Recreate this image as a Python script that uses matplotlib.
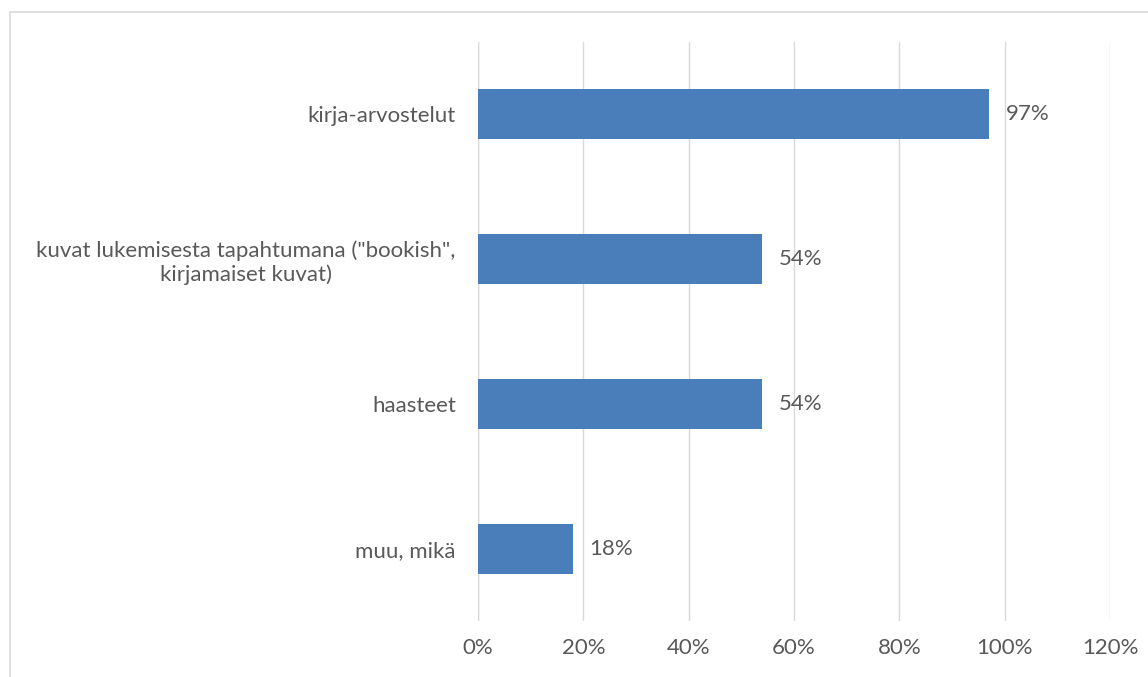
import matplotlib.pyplot as plt
from matplotlib.patches import Rectangle

categories = ["kirja-arvostelut",
              "kuvat lukemisesta tapahtumana (\"bookish\",\nkirjamaiset kuvat)",
              "haasteet",
              "muu, mikä"]
values = [0.97, 0.54, 0.54, 0.18]
xticks = [0, 0.2, 0.4, 0.6, 0.8, 1.0, 1.2]
xticklabels = ["0%", "20%", "40%", "60%", "80%", "100%", "120%"]

plt.rcParams['font.family'] = ['Lato', 'DejaVu Sans']
W, H = 1148, 677
fig = plt.figure(figsize=(W/100, H/100), dpi=100)

# outer frame
fig.patches.append(Rectangle((10/W, -0.1), 1.2, (H-12)/H + 0.1, transform=fig.transFigure,
                             fill=False, edgecolor='#d9d9d9', linewidth=1.2))

fs = 16
ax = fig.add_axes([478/W, 56/H, (1110-478)/W, (635-56)/H])
txt = '#595959'
ypos = list(range(len(categories)))
ax.barh(ypos, values, height=0.345, color='#4a7ebb', zorder=3)
ax.set_ylim(len(categories)-0.5, -0.5)
ax.set_xlim(0, 1.2)
ax.set_yticks(ypos)
ax.set_yticklabels(categories, color=txt, fontsize=fs, multialignment='center')
ax.set_xticks(xticks)
ax.set_xticklabels(xticklabels, color=txt, fontsize=fs)
ax.tick_params(axis='both', length=0)
ax.tick_params(axis='y', pad=16)
ax.tick_params(axis='x', pad=12)
ax.grid(axis='x', color='#d9d9d9', linewidth=1, zorder=0)
for s in ax.spines.values():
    s.set_visible(False)
ax.axvline(0, color='#d9d9d9', linewidth=1, zorder=1)
for y, v in zip(ypos, values):
    ax.annotate(f"{round(v*100)}%", (v, y), xytext=(12, 0), textcoords='offset points',
                va='center', ha='left', color=txt, fontsize=fs)

fig.savefig('out.png', dpi=100)
